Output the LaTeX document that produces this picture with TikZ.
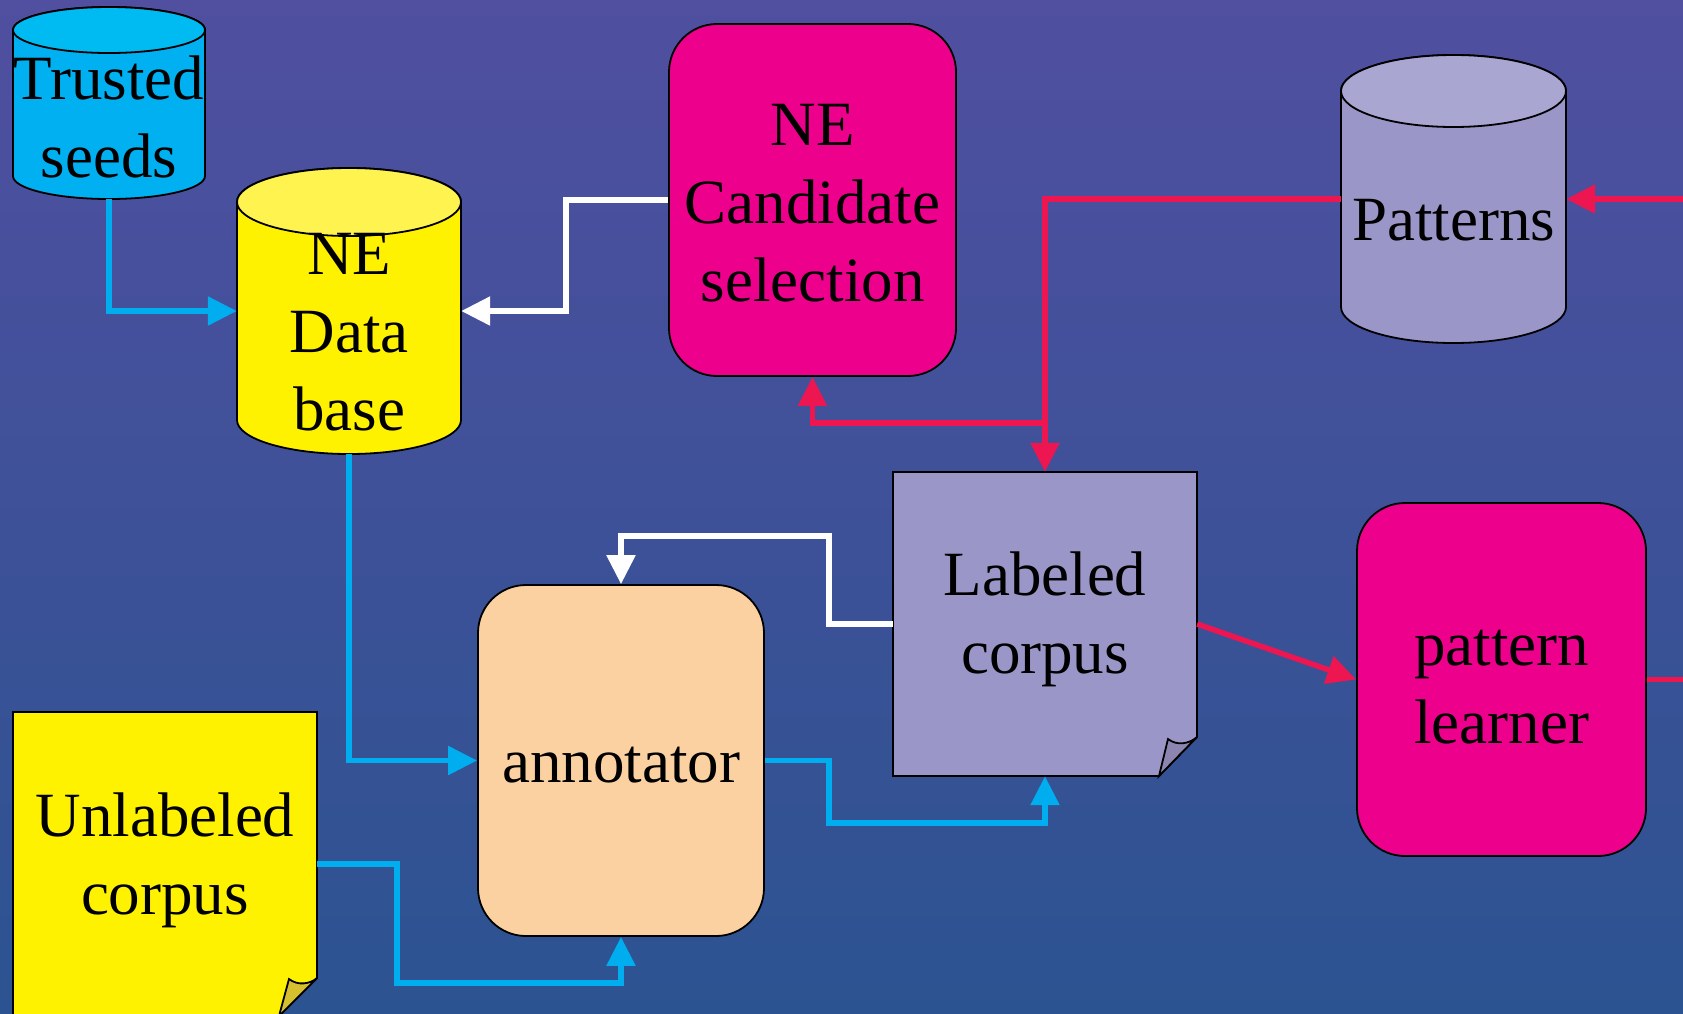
\documentclass[tikz,border=0pt]{standalone}
\usepackage{fontspec}
\setmainfont{Liberation Serif}
\usetikzlibrary{arrows.meta}
\definecolor{bgtop}{RGB}{80,79,160}
\definecolor{bgbot}{RGB}{44,83,145}
\definecolor{cyanA}{RGB}{0,176,240}
\definecolor{cyanTop}{RGB}{0,186,242}
\definecolor{yelA}{RGB}{255,242,0}
\definecolor{yelTop}{RGB}{255,243,80}
\definecolor{magA}{RGB}{236,0,140}
\definecolor{lavA}{RGB}{155,150,200}
\definecolor{lavTop}{RGB}{170,166,210}
\definecolor{lavFlap}{RGB}{140,133,175}
\definecolor{peach}{RGB}{252,209,161}
\definecolor{yelFlap}{RGB}{215,192,48}
\definecolor{redA}{RGB}{237,22,80}
\definecolor{blueA}{RGB}{0,174,239}
\newcommand{\diagfont}{\fontsize{63}{78}\selectfont}
\newcommand{\drawcyl}[7]{%
  \pgfmathsetmacro{\cylrx}{(#3-#1)/2}%
  \pgfmathsetmacro{\cylcx}{(#1+#3)/2}%
  \path[blackline, fill=#6] (#1,#2+#5) -- (#1,#4-#5)
    arc[start angle=180, end angle=360, x radius=\cylrx pt, y radius=#5 pt]
    -- (#3,#2+#5)
    arc[start angle=0, end angle=180, x radius=\cylrx pt, y radius=#5 pt] -- cycle;
  \path[blackline, fill=#7] (\cylcx,#2+#5) ellipse[x radius=\cylrx pt, y radius=#5 pt];
}
\tikzset{
  blackline/.style={draw=black, line width=1.8pt},
  procbox/.style={blackline, fill=magA, rounded corners=48pt, inner sep=0pt},
  shapearea/.style={inner sep=0pt, draw=none},
  txt/.style={align=center, inner sep=0pt, font=\diagfont},
  conn/.style={line width=5.5pt, -{Triangle[length=29pt,width=28pt]}},
  bconn/.style={conn, draw=blueA},
  rconn/.style={conn, draw=redA},
  wconn/.style={conn, draw=white},
}
\begin{document}
\begin{tikzpicture}[x=1pt,y=-1pt]
\useasboundingbox (0,0) rectangle (1683,1013);
\clip (0,0) rectangle (1683,1013);
\shade[top color=bgtop, bottom color=bgbot] (0,0) rectangle (1683,1013);

% cylinders
\drawcyl{13}{7}{205}{199}{23}{cyanA}{cyanTop}
\node[shapearea, minimum width=192pt, minimum height=192pt] (seeds) at (109,103) {};
\node[txt] (seeds-t) at (109,117) {Trusted\\seeds};

\drawcyl{237}{168}{461}{454}{34}{yelA}{yelTop}
\node[shapearea, minimum width=224pt, minimum height=286pt] (nedb) at (349,311) {};
\node[txt] (nedb-t) at (349,332.5) {NE\\Data\\base};

\drawcyl{1341}{55}{1566}{343}{36}{lavA}{lavTop}
\node[shapearea, minimum width=225pt, minimum height=288pt] (pat) at (1453.5,199) {};
\node[txt] (pat-t) at (1453.5,220) {Patterns};

% documents
\path[blackline, fill=lavA] (893,472) -- (1197,472) -- (1197,737) -- (1159,776) -- (893,776) -- cycle;
\path[blackline, fill=lavFlap] (1159,776) -- (1168,739) .. controls (1177,746) and (1189,744) .. (1197,737) -- cycle;
\node[shapearea, minimum width=304pt, minimum height=304pt] (lab) at (1045,624) {};
\node[txt] (lab-t) at (1045,619) {Labeled\\corpus};

\path[blackline, fill=yelA] (13,712) -- (317,712) -- (317,978) -- (279,1016) -- (13,1016) -- cycle;
\path[blackline, fill=yelFlap] (279,1016) -- (289,979) .. controls (298,986) and (310,984) .. (317,978) -- cycle;
\node[shapearea, minimum width=304pt, minimum height=304pt] (unl) at (165,864) {};
\node[txt] (unl-t) at (165,860) {Unlabeled\\corpus};

% rounded process boxes
\node[procbox, minimum width=287pt, minimum height=352pt] (cand) at (812.5,200) {};
\node[txt] (cand-t) at (812.5,203.5) {NE\\Candidate\\selection};
\node[procbox, fill=peach, minimum width=286pt, minimum height=351pt] (ann) at (621,760.5) {};
\node[txt] (ann-t) at (621,765.5) {annotator};
\node[procbox, minimum width=289pt, minimum height=353pt] (pl) at (1501.5,679.5) {};
\node[txt] (pl-t) at (1501.5,687) {pattern\\learner};

% helper coordinates
\coordinate (w1) at (566,311);
\coordinate (w2) at (829,536);
\coordinate (br) at (1045,423);
\coordinate (c1) at (829,823);
\coordinate (c2) at (397,983);
\coordinate (rin) at (1683,199);
\coordinate (rout) at (1683,679.5);

% connectors
\draw[bconn] (seeds.south) |- (nedb.west);
\draw[bconn] (nedb.south) |- (ann.west);
\draw[bconn] (ann.east) -| (c1) -| (lab.south);
\draw[bconn] (unl.east) -| (c2) -| (ann.south);
\draw[wconn] (cand.west) -| (w1) -- (nedb.east);
\draw[wconn] (lab.west) -| (w2) -| (ann.north);
\draw[rconn] (pat.west) -| (lab.north);
\draw[rconn] (br) -| (cand.south);
\draw[rconn] (rin) -- (pat.east);
\draw[rconn] (lab.east) -- (pl.west);
\draw[line width=5.5pt, draw=redA] (pl.east) -- (rout);
\end{tikzpicture}
\end{document}
